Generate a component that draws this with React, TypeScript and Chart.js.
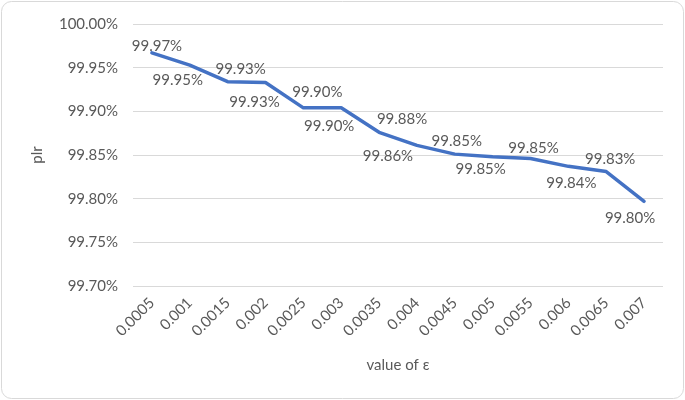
import React, { useEffect, useRef } from "react";
import { Chart, registerables } from "chart.js";

Chart.register(...registerables);

const categories = ["0.0005", "0.001", "0.0015", "0.002", "0.0025", "0.003", "0.0035", "0.004", "0.0045", "0.005", "0.0055", "0.006", "0.0065", "0.007"];
const plrValues = [99.967, 99.953, 99.934, 99.933, 99.904, 99.904, 99.876, 99.861, 99.851, 99.848, 99.846, 99.837, 99.831, 99.797];
const yMin = 99.7;
const yMax = 100.0;
const yStep = 0.05;
const yTitle = "plr";
const xTitle = "value of ε";

const FONT = "Lato, 'Noto Sans', sans-serif";
const TEXT = "#595959";
const FS = 15;

// label placement (style): offsets from the point, in pixels
const labelDx = [5, -12, 13, -11, 14, -12, 23, -29, 2, -12, 3, 3, 4, -14];
const labelDy = [-7, 15, -12, 20, -16, 18, -13, 11, -13, 12, -10, 17, -12, 17];

const labelPlugin = {
  id: "pointLabels",
  afterDatasetsDraw(chart: any) {
    const ctx = chart.ctx;
    const meta = chart.getDatasetMeta(0);
    ctx.save();
    ctx.font = `${FS}px ${FONT}`;
    ctx.fillStyle = TEXT;
    ctx.textAlign = "center";
    ctx.textBaseline = "middle";
    meta.data.forEach((pt: any, i: number) => {
      const v = chart.data.datasets[0].data[i] as number;
      ctx.fillText(v.toFixed(2) + "%", pt.x + labelDx[i], pt.y + labelDy[i]);
    });
    ctx.restore();
  },
};

const framePlugin = {
  id: "frame",
  beforeDraw(chart: any) {
    const ctx = chart.ctx;
    ctx.save();
    ctx.fillStyle = "#ffffff";
    ctx.fillRect(0, 0, chart.width, chart.height);
    ctx.strokeStyle = "#d9d9d9";
    ctx.lineWidth = 1;
    ctx.beginPath();
    (ctx as any).roundRect(1.5, 1.5, chart.width - 3, chart.height - 3, 10);
    ctx.stroke();
    ctx.restore();
  },
};

export default function App() {
  const ref = useRef<HTMLCanvasElement | null>(null);
  useEffect(() => {
    document.body.style.margin = "0";
    const chart = new Chart(ref.current as HTMLCanvasElement, {
      type: "line",
      data: {
        labels: categories,
        datasets: [
          {
            data: plrValues,
            borderColor: "#4472C4",
            borderWidth: 3.5,
            pointRadius: 0,
            tension: 0,
            borderCapStyle: "round",
            borderJoinStyle: "round",
            fill: false,
          },
        ],
      },
      options: {
        animation: false,
        responsive: false,
        layout: { padding: { left: 24, right: 22, top: 13, bottom: 22 } },
        plugins: { legend: { display: false }, tooltip: { enabled: false } },
        scales: {
          x: {
            offset: true,
            grid: { display: false, drawTicks: false },
            border: { display: false },
            ticks: {
              color: TEXT,
              font: { family: FONT, size: FS },
              minRotation: 45,
              maxRotation: 45,
              padding: 8,
              autoSkip: false,
            },
            title: { display: true, text: xTitle, color: TEXT, font: { family: FONT, size: FS }, padding: 4 },
            afterFit(scale: any) {
              scale.height = 92;
            },
          },
          y: {
            min: yMin,
            max: yMax,
            grid: { color: "#d9d9d9", drawTicks: false, lineWidth: 1 },
            border: { display: false },
            ticks: {
              stepSize: yStep,
              color: TEXT,
              font: { family: FONT, size: FS },
              padding: 15,
              callback: (v: any) => Number(v).toFixed(2) + "%",
            },
            title: { display: true, text: yTitle, color: TEXT, font: { family: FONT, size: FS }, padding: 4 },
            afterFit(scale: any) {
              scale.width = 109;
            },
          },
        },
      },
      plugins: [framePlugin, labelPlugin],
    });
    return () => chart.destroy();
  }, []);
  return (
    <div style={{ width: 685, height: 400 }}>
      <canvas ref={ref} width={685} height={400} style={{ display: "block" }} />
    </div>
  );
}
